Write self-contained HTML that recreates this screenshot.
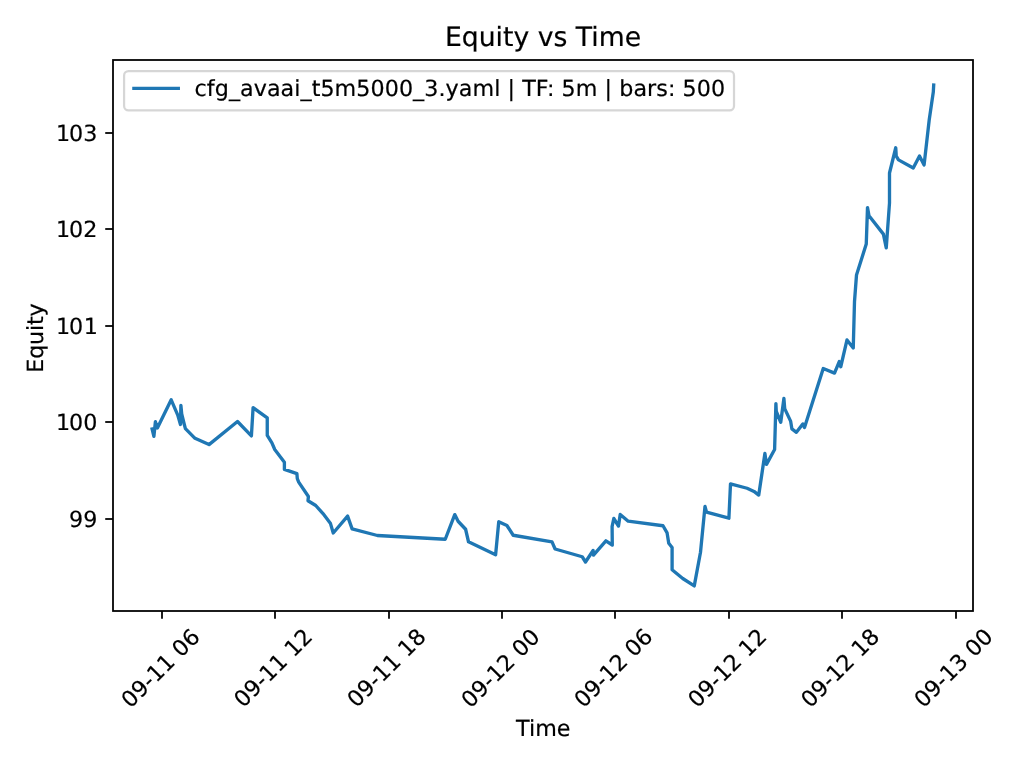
<!DOCTYPE html>
<html lang="en"><head><meta charset="utf-8"><title>Equity vs Time</title>
<style>html,body{margin:0;padding:0;background:#fff;overflow:hidden}body{width:1024px;height:768px}svg{display:block;position:absolute;left:0;top:0}text{font-family:'DejaVu Sans','Liberation Sans',sans-serif;fill:#000;stroke:#000;stroke-width:0.2px;text-rendering:geometricPrecision}</style></head><body>
<svg width="1024" height="768" viewBox="0 0 1024 768" role="img" aria-label="Equity vs Time line chart">
<rect x="0" y="0" width="1024" height="768" fill="#ffffff"/>
<path d="M152.10 428.90 L153.90 436.30 L155.40 421.75 L157.40 428.00 L171.20 399.80 L177.75 415.10 L180.45 424.50 L180.90 405.30 L181.70 413.90 L184.30 424.50 L185.40 428.60 L195.00 438.30 L209.00 444.60 L237.50 421.50 L251.40 435.90 L253.10 407.70 L267.25 417.90 L267.25 435.40 L271.90 442.90 L274.75 449.50 L284.40 462.25 L284.40 469.40 L296.90 473.70 L297.30 478.60 L298.70 482.10 L308.40 496.50 L308.00 500.75 L315.75 505.50 L323.00 513.60 L330.50 523.60 L333.25 533.00 L347.60 516.10 L352.10 528.90 L377.40 535.50 L445.25 539.25 L454.75 514.60 L458.10 521.25 L465.60 529.25 L468.50 541.75 L495.60 554.80 L498.75 521.75 L506.90 525.50 L513.20 535.25 L552.00 541.90 L555.10 549.00 L582.20 556.75 L585.50 562.00 L593.10 550.50 L593.50 555.10 L605.90 540.80 L612.30 545.00 L612.10 526.50 L613.80 518.50 L618.50 526.00 L620.20 514.40 L628.20 521.20 L663.00 525.75 L667.10 532.90 L668.75 543.25 L672.10 547.50 L672.10 569.75 L682.75 578.50 L694.25 585.90 L700.50 552.25 L705.00 506.40 L706.50 512.10 L728.90 518.20 L730.50 483.90 L747.10 488.25 L754.00 491.40 L758.75 495.10 L764.90 453.50 L766.50 464.40 L774.60 449.50 L775.90 403.60 L776.30 411.50 L780.75 422.25 L783.90 398.50 L784.70 408.60 L790.60 421.10 L791.90 428.90 L796.40 432.30 L802.80 423.90 L804.50 427.50 L823.25 368.50 L834.50 373.10 L839.25 361.60 L840.75 366.75 L847.00 339.90 L853.25 348.00 L854.50 301.50 L856.50 275.00 L866.25 244.10 L867.50 207.60 L869.00 215.80 L883.40 234.10 L886.25 247.90 L889.50 203.00 L889.50 173.00 L895.75 147.75 L896.25 156.10 L898.50 159.90 L913.25 168.00 L919.50 155.90 L924.10 164.90 L929.20 120.00 L933.30 92.00 L933.70 85.05" fill="none" stroke="#1f77b4" stroke-width="3.333" stroke-linejoin="round" stroke-linecap="square"/>
<g stroke="#000" stroke-width="1.778" fill="none">
<line x1="162" y1="611" x2="162" y2="618.78"/>
<line x1="275" y1="611" x2="275" y2="618.78"/>
<line x1="389" y1="611" x2="389" y2="618.78"/>
<line x1="502" y1="611" x2="502" y2="618.78"/>
<line x1="615" y1="611" x2="615" y2="618.78"/>
<line x1="729" y1="611" x2="729" y2="618.78"/>
<line x1="842" y1="611" x2="842" y2="618.78"/>
<line x1="956" y1="611" x2="956" y2="618.78"/>
<line x1="113" y1="133" x2="105.22" y2="133"/>
<line x1="113" y1="229" x2="105.22" y2="229"/>
<line x1="113" y1="326" x2="105.22" y2="326"/>
<line x1="113" y1="422" x2="105.22" y2="422"/>
<line x1="113" y1="519" x2="105.22" y2="519"/>
</g>
<rect x="113" y="60" width="860" height="551" fill="none" stroke="#000" stroke-width="1.778" stroke-linejoin="miter"/>
<g font-size="22.222">
<text transform="translate(130.50 709.00) rotate(-45)">09-11 06</text>
<text transform="translate(243.20 708.60) rotate(-45)">09-11 12</text>
<text transform="translate(356.60 708.60) rotate(-45)">09-11 18</text>
<text transform="translate(470.50 709.00) rotate(-45)">09-12 00</text>
<text transform="translate(583.40 708.70) rotate(-45)">09-12 06</text>
<text transform="translate(697.30 708.70) rotate(-45)">09-12 12</text>
<text transform="translate(810.20 708.70) rotate(-45)">09-12 18</text>
<text transform="translate(923.60 708.70) rotate(-45)">09-13 00</text>
<text x="55.88 69.12 83.26" y="141.25">103</text>
<text x="55.88 69.12 83.26" y="237.25">102</text>
<text x="55.88 69.12 83.76" y="334.25">101</text>
<text x="55.88 69.12 83.26" y="430.25">100</text>
<text x="69.12 83.26" y="527.25">99</text>
<text x="543.30" y="736.25" text-anchor="middle">Time</text>
<text transform="translate(42.80 338.00) rotate(-90)" text-anchor="middle" textLength="69.5" lengthAdjust="spacing">Equity</text>
</g>
<text x="543.00" y="46.20" text-anchor="middle" font-size="26.667">Equity vs Time</text>
<rect x="124.10" y="71.10" width="609.90" height="39.30" rx="4.4" ry="4.4" fill="#ffffff" fill-opacity="0.8" stroke="#cccccc" stroke-opacity="0.8" stroke-width="2.222"/>
<line x1="133.90" y1="88.45" x2="178.30" y2="88.45" stroke="#1f77b4" stroke-width="3.333" stroke-linecap="square"/>
<text x="194.60" y="96.25" font-size="22.222" textLength="530.5" lengthAdjust="spacing">cfg_avaai_t5m5000_3.yaml | TF: 5m | bars: 500</text>
</svg></body></html>
